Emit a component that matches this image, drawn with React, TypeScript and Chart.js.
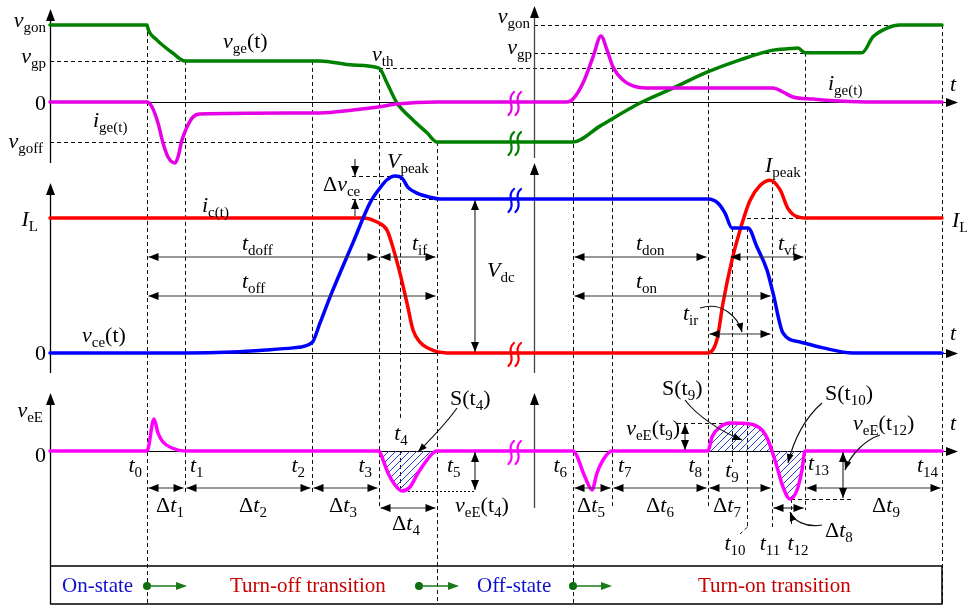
import React, { useEffect, useRef } from 'react';
import Chart from 'chart.js/auto';

type Pt = [number, number];

// Canvas size and the pixel layout of the three stacked panels
const W = 967;
const H = 609;
const ORIGIN_PX = 50;
const GATE_ZERO_PX = 102;
const POWER_ZERO_PX = 353;
const EMITTER_ZERO_PX = 451;
const GATE_PX_PER_V = 77 / 15;
const IGE_PX_PER_A = 50;
const IC_PX_PER_A = 1.35;
const VCE_PX_PER_V = 154 / 600;
const VEE_PX_PER_MV = 1;

// Switching instants t0 .. t14 (ns)
const eventTimes = [97, 135, 262, 329, 350, 387, 523, 562, 658, 682, 697, 722, 741, 755, 892];
const BREAK_T = 465;
const ORIGIN2_T = 484;

// Gate levels (V)
const VGON = 15;
const VGP = 8;
const VTH = 6.6;
const VGOFF = -7.8;
const VGP_ON = 9.6;
// Load levels
const IL = 100;
const IPEAK = 128;
const VDC = 600;
const VPEAK = 690;
const VMILLER = 487;
// Emitter voltage extremes (mV)
const VE_T4 = -40;
const VE_T9 = 28;
const VE_T12 = -48;

// Gate-emitter voltage (ns, V)
const vgePts: Pt[] = [
  [0, 15], [97, 15], [98, 14.3], [100, 13.4], [105, 12.4], [110, 11.5], [123, 9.5], [135, 8],
  [270, 8], [303, 7.2], [329, 6.6], [337, 3.7], [347, -0.2], [363, -3.5], [377, -6],
  [387, -7.8], [523, -7.8], [550, -4.7], [590, -0.2], [623, 2.7], [657, 5.8], [690, 8.2],
  [723, 10.1], [740, 10.4], [748, 10.5], [755, 9.6], [812, 9.6], [823, 12.7], [837, 14.4],
  [850, 15], [892, 15],
];
// Gate current (ns, A)
const igePts: Pt[] = [
  [0, 0], [97, 0], [102, -0.1], [108, -0.42], [113, -0.82], [118, -1.1], [125, -1.22],
  [128, -1.1], [132, -0.76], [137, -0.5], [143, -0.3], [150, -0.24], [270, -0.22],
  [303, -0.16], [328, -0.1], [347, -0.04], [387, 0], [517, 0], [523, 0.06], [533, 0.38],
  [543, 0.9], [551, 1.32], [557, 1.04], [563, 0.7], [573, 0.44], [587, 0.3], [600, 0.28],
  [723, 0.28], [733, 0.2], [743, 0.1], [763, 0.06], [790, 0.02], [823, 0], [892, 0],
];
// Collector-emitter voltage (ns, V)
const vcePts: Pt[] = [
  [0, 0], [135, 0], [183, 4], [217, 12], [243, 20], [262, 40], [270, 117], [280, 218],
  [303, 430], [320, 585], [330, 643], [337, 675], [345, 690], [352, 682], [358, 645],
  [367, 623], [380, 607], [390, 600], [658, 600], [668, 584], [675, 545], [682, 487],
  [698, 487], [707, 413], [717, 323], [723, 234], [733, 78], [750, 43], [773, 20],
  [803, 0], [892, 0],
];
// Collector current (ns, A)
const icPts: Pt[] = [
  [0, 100], [313, 100], [327, 97], [337, 91], [343, 78], [350, 59], [357, 37], [363, 17],
  [370, 8], [383, 2], [403, 0], [658, 0], [667, 10], [673, 37], [682, 69], [690, 91],
  [700, 113], [710, 124], [720, 128], [730, 121], [738, 107], [747, 101], [757, 100],
  [892, 100],
];
// Kelvin emitter voltage (ns, mV)
const veEPts: Pt[] = [
  [0, 0], [97, 0], [104, 32], [108, 18], [113, 9], [122, 3], [135, 0], [329, 0], [333, -9],
  [338, -22], [345, -34], [352, -40], [360, -36], [368, -22], [377, -9], [383, -2],
  [387, 0], [523, 0], [535, -26], [542, -39], [547, -22], [553, -9], [562, 0], [658, 0],
  [662, 14], [670, 24], [680, 28], [700, 27], [712, 21], [718, 11], [722, 0], [727, -16],
  [733, -36], [740, -48], [747, -39], [752, -19], [755, 0], [892, 0],
];

// Integrated areas S(t4) and S(t9)/S(t10)
const hatchSpans: Pt[] = [
  [eventTimes[3], eventTimes[5]],
  [eventTimes[8], eventTimes[13]],
];

const GREEN = '#008000';
const MAGENTA = '#e600e6';
const RED = '#ff0000';
const BLUE = '#0000ff';
const SERIF = '"Liberation Serif", "Times New Roman", serif';

type Seg = [string, string];
const I = (s: string): Seg => [s, 'i'];
const R = (s: string): Seg => [s, 'r'];
const S = (s: string): Seg => [s, 's'];

function range(zeroPx: number, pxPerUnit: number) {
  return { min: (zeroPx - H) / pxPerUnit, max: zeroPx / pxPerUnit };
}

function fontOf(kind: string, size: number) {
  if (kind === 'i') return `italic ${size}px ${SERIF}`;
  if (kind === 's') return `${Math.round(size * 0.68)}px ${SERIF}`;
  return `${size}px ${SERIF}`;
}

function rich(ctx: any, segs: Seg[], x: number, y: number, align = 'left', color = '#000', size = 22) {
  ctx.save();
  ctx.fillStyle = color;
  ctx.textAlign = 'left';
  ctx.textBaseline = 'alphabetic';
  let w = 0;
  for (const [s, k] of segs) {
    ctx.font = fontOf(k, size);
    w += ctx.measureText(s).width;
  }
  let cx = align === 'left' ? x : align === 'right' ? x - w : x - w / 2;
  for (const [s, k] of segs) {
    ctx.font = fontOf(k, size);
    ctx.fillText(s, cx, k === 's' ? y + 5 : y);
    cx += ctx.measureText(s).width;
  }
  ctx.restore();
}

function head(ctx: any, x: number, y: number, ang: number, len = 10, half = 4) {
  const c = Math.cos(ang);
  const s = Math.sin(ang);
  ctx.beginPath();
  ctx.moveTo(x, y);
  ctx.lineTo(x - len * c + half * s, y - len * s - half * c);
  ctx.lineTo(x - len * c - half * s, y - len * s + half * c);
  ctx.closePath();
  ctx.fill();
}

function arrow(ctx: any, x1: number, y1: number, x2: number, y2: number, start: boolean, end: boolean, color = '#333') {
  ctx.save();
  ctx.setLineDash([]);
  ctx.strokeStyle = color;
  ctx.lineWidth = 1.2;
  ctx.beginPath();
  ctx.moveTo(x1, y1);
  ctx.lineTo(x2, y2);
  ctx.stroke();
  ctx.fillStyle = '#000';
  const ang = Math.atan2(y2 - y1, x2 - x1);
  if (end) head(ctx, x2, y2, ang);
  if (start) head(ctx, x1, y1, ang + Math.PI);
  ctx.restore();
}

function curvedArrow(ctx: any, p: number[]) {
  const [x1, y1, c1x, c1y, c2x, c2y, x2, y2] = p;
  ctx.save();
  ctx.setLineDash([]);
  ctx.strokeStyle = '#111';
  ctx.lineWidth = 1.2;
  ctx.beginPath();
  ctx.moveTo(x1, y1);
  ctx.bezierCurveTo(c1x, c1y, c2x, c2y, x2, y2);
  ctx.stroke();
  ctx.fillStyle = '#000';
  head(ctx, x2, y2, Math.atan2(y2 - c2y, x2 - c2x), 9, 3.5);
  ctx.restore();
}

function squiggle(ctx: any, x: number, y: number, color: string) {
  ctx.save();
  ctx.setLineDash([]);
  ctx.strokeStyle = color;
  ctx.lineWidth = 2.2;
  ctx.lineCap = 'round';
  for (const dx of [-3.5, 3.5]) {
    const cx = x + dx;
    ctx.beginPath();
    ctx.moveTo(cx + 2.5, y - 11);
    ctx.bezierCurveTo(cx - 6, y - 4, cx + 5, y + 4, cx - 3, y + 12);
    ctx.stroke();
  }
  ctx.restore();
}

const waveformNotes = {
  id: 'waveformNotes',
  beforeDatasetsDraw(chart: any) {
    const ctx = chart.ctx;
    const X = (t: number) => chart.scales.x.getPixelForValue(t);
    const G = (v: number) => chart.scales.yGate.getPixelForValue(v);
    const P = (v: number) => chart.scales.yIc.getPixelForValue(v);
    const V = (v: number) => chart.scales.yVce.getPixelForValue(v);
    const E = (v: number) => chart.scales.yVeE.getPixelForValue(v);
    const T = (i: number) => X(eventTimes[i]);
    const g0 = G(0);
    const p0 = P(0);
    const e0 = E(0);
    const boxTop = e0 + 115;
    const boxBot = e0 + 153;
    const snap = (v: number) => Math.round(v) + 0.5;

    // dashed construction lines
    ctx.save();
    ctx.strokeStyle = '#111';
    ctx.lineWidth = 1;
    ctx.setLineDash([4, 3]);
    const vl = (x: number, y1: number, y2: number) => {
      ctx.beginPath();
      ctx.moveTo(snap(x), y1);
      ctx.lineTo(snap(x), y2);
      ctx.stroke();
    };
    const hl = (y: number, x1: number, x2: number) => {
      ctx.beginPath();
      ctx.moveTo(x1, snap(y));
      ctx.lineTo(x2, snap(y));
      ctx.stroke();
    };
    vl(T(0), G(VGON), boxBot);
    vl(T(1), G(VGP), e0 + 42);
    vl(T(2), G(VGP), e0 + 44);
    vl(T(3), G(VTH), e0 + 58);
    vl(T(4), V(VPEAK), e0 - 31);
    vl(T(4), e0, E(VE_T4));
    vl(T(5), G(VGOFF), boxBot);
    vl(T(6), g0, boxBot);
    vl(T(7), G(VTH), e0 + 55);
    vl(T(8), G(VTH), e0 + 57);
    vl(T(9), V(VMILLER), e0 + 11);
    vl(T(10), V(VMILLER), e0 + 76);
    ctx.beginPath();
    ctx.moveTo(snap(T(10)), e0 + 76);
    ctx.lineTo(T(10) - 7, e0 + 83);
    ctx.stroke();
    vl(T(11), P(IPEAK), e0 + 76);
    vl(T(12), E(VE_T12), e0 + 76);
    vl(T(13), G(VGP_ON), e0 + 59);
    vl(T(14), G(VGON), boxBot);

    hl(G(VGP), X(0), T(1));
    hl(G(VGOFF), X(0), T(5));
    hl(G(VTH), T(3), T(8));
    hl(G(VGON), X(ORIGIN2_T), T(14));
    hl(G(VGP_ON), X(ORIGIN2_T), T(13));
    hl(V(VPEAK), X(302), X(345));
    hl(V(VDC), X(302), T(5));
    hl(P(IL), T(10), T(13));
    hl(E(VE_T9), X(627), X(690));
    hl(E(VE_T12), T(12), X(802));
    ctx.setLineDash([2, 2]);
    hl(E(VE_T4), T(4), X(425));
    ctx.restore();

    // axes
    ctx.save();
    ctx.strokeStyle = '#000';
    ctx.fillStyle = '#000';
    ctx.lineWidth = 1.3;
    const vAxis = (x: number, tip: number, bottom: number, color = '#000') => {
      ctx.strokeStyle = color;
      ctx.beginPath();
      ctx.moveTo(snap(x), tip + 6);
      ctx.lineTo(snap(x), bottom);
      ctx.stroke();
      head(ctx, snap(x), tip, -Math.PI / 2, 12, 4.5);
    };
    const x0 = X(0);
    const x2 = X(ORIGIN2_T);
    vAxis(x0, g0 - 93, g0 + 61);
    vAxis(x0, p0 - 170, p0 + 20);
    vAxis(x0, e0 - 58, boxBot);
    vAxis(x2, g0 - 96, g0 + 56, '#444');
    vAxis(x2, p0 - 190, p0 + 20, '#444');
    vAxis(x2, e0 - 58, e0 + 57, '#444');
    ctx.strokeStyle = '#000';
    ctx.lineWidth = 1;
    for (const y of [g0, p0, e0]) {
      ctx.beginPath();
      ctx.moveTo(x0, snap(y));
      ctx.lineTo(X(904), snap(y));
      ctx.stroke();
      head(ctx, X(908), snap(y), 0, 12, 4.5);
    }
    // state bar
    ctx.lineWidth = 1.5;
    ctx.beginPath();
    ctx.moveTo(x0, boxTop);
    ctx.lineTo(T(14), boxTop);
    ctx.lineTo(T(14), boxBot);
    ctx.lineTo(x0, boxBot);
    ctx.stroke();
    ctx.restore();
  },
  afterDatasetsDraw(chart: any) {
    const ctx = chart.ctx;
    const X = (t: number) => chart.scales.x.getPixelForValue(t);
    const G = (v: number) => chart.scales.yGate.getPixelForValue(v);
    const P = (v: number) => chart.scales.yIc.getPixelForValue(v);
    const V = (v: number) => chart.scales.yVce.getPixelForValue(v);
    const E = (v: number) => chart.scales.yVeE.getPixelForValue(v);
    const T = (i: number) => X(eventTimes[i]);
    const g0 = G(0);
    const p0 = P(0);
    const e0 = E(0);
    const left = X(0) - 4;

    // breaks in the time axis
    const xb = X(BREAK_T);
    squiggle(ctx, xb, g0 + 1, MAGENTA);
    squiggle(ctx, xb, G(VGOFF) + 1, GREEN);
    squiggle(ctx, xb, V(VDC) + 1, BLUE);
    squiggle(ctx, xb, p0 + 1, RED);
    squiggle(ctx, xb, e0 + 1, '#ff00ff');

    // interval arrows
    const dim = (xa: number, xb2: number, y: number) => arrow(ctx, xa + 1.5, y, xb2 - 1.5, y, true, true);
    const row1 = p0 - 96;
    const row2 = p0 - 57;
    dim(T(0), T(3), row1);
    dim(T(3), T(5), row1);
    dim(T(0), T(5), row2);
    dim(T(6), T(8), row1);
    dim(X(679), T(13), row1);
    dim(T(6), T(11), row2);
    dim(T(8), T(11), p0 - 19);
    const dt1 = e0 + 37;
    const dt2 = e0 + 57;
    dim(T(0), T(1), dt1);
    dim(T(1), T(2), dt1);
    dim(T(2), T(3), dt1);
    dim(T(3), T(5), dt2);
    dim(T(6), T(7), dt1);
    dim(T(7), T(8), dt1);
    dim(T(8), T(11), dt1);
    dim(T(11), T(13), dt2);
    dim(T(13), T(14), dt1);

    // level arrows
    const xv = X(305);
    arrow(ctx, xv, V(VPEAK) - 17, xv, V(VPEAK), false, true);
    arrow(ctx, xv, V(VDC) + 17, xv, V(VDC), false, true);
    arrow(ctx, X(425), V(VDC) + 1, X(425), p0 - 1, true, true);
    arrow(ctx, X(425), e0 + 1, X(425), E(VE_T4) - 1, true, true);
    arrow(ctx, X(635), E(VE_T9) + 1, X(635), e0 - 1, true, true);
    arrow(ctx, X(793), e0 + 1, X(793), E(VE_T12) - 1, true, true);

    // pointer arrows
    curvedArrow(ctx, [X(650), p0 - 45, X(672), p0 - 52, X(688), p0 - 36, X(692), p0 - 21]);
    curvedArrow(ctx, [X(407), e0 - 43, X(395), e0 - 26, X(380), e0 - 11, X(368), e0 + 1]);
    curvedArrow(ctx, [X(635), e0 - 51, X(648), e0 - 34, X(672), e0 - 19, X(692), e0 - 11]);
    curvedArrow(ctx, [X(772), e0 - 48, X(756), e0 - 34, X(744), e0 - 12, X(738), e0 + 12]);
    curvedArrow(ctx, [X(830), e0 - 16, X(815), e0 - 11, X(800), e0 + 4, X(795), e0 + 19]);
    curvedArrow(ctx, [X(772), e0 + 74, X(755), e0 + 77, X(743), e0 + 69, X(740), e0 + 61]);

    // gate panel labels
    rich(ctx, [I('v'), S('gon')], left, G(VGON) + 2, 'right');
    rich(ctx, [I('v'), S('gp')], left, G(VGP) + 2, 'right');
    rich(ctx, [R('0')], left, g0 + 8, 'right');
    rich(ctx, [I('v'), S('goff')], left - 3, G(VGOFF) + 6, 'right');
    rich(ctx, [I('v'), S('ge'), R('(t)')], X(173), g0 - 54);
    rich(ctx, [I('v'), S('th')], X(322), G(VTH) - 7);
    rich(ctx, [I('i'), S('ge(t)')], X(43), g0 + 25);
    rich(ctx, [I('v'), S('gon')], X(ORIGIN2_T) - 4, G(VGON) - 2, 'right');
    rich(ctx, [I('v'), S('gp')], X(ORIGIN2_T) - 2, G(VGP_ON) + 1, 'right');
    rich(ctx, [I('i'), S('ge(t)')], X(778), g0 - 12);
    rich(ctx, [I('t')], X(900), g0 - 11);

    // power panel labels
    rich(ctx, [I('I'), S('L')], left - 8, P(IL) + 8, 'right');
    rich(ctx, [R('0')], left, p0 + 7, 'right');
    rich(ctx, [I('i'), S('c(t)')], X(152), P(IL) - 6);
    rich(ctx, [I('t'), S('doff')], X(192), p0 - 103);
    rich(ctx, [I('t'), S('off')], X(192), p0 - 65);
    rich(ctx, [I('v'), S('ce'), R('(t)')], X(32), p0 - 11);
    rich(ctx, [R('Δ'), I('v'), S('ce')], X(273), V(VDC) - 8);
    rich(ctx, [I('V'), S('peak')], X(337), V(VPEAK) - 8);
    rich(ctx, [I('t'), S('if')], X(362), p0 - 103);
    rich(ctx, [I('V'), S('dc')], X(437), p0 - 76);
    rich(ctx, [I('t'), S('don')], X(586), p0 - 103);
    rich(ctx, [I('t'), S('on')], X(586), p0 - 65);
    rich(ctx, [I('t'), S('vf')], X(728), p0 - 103);
    rich(ctx, [I('t'), S('ir')], X(633), p0 - 33);
    rich(ctx, [I('I'), S('peak')], X(715), P(IPEAK) - 8);
    rich(ctx, [I('I'), S('L')], X(902), P(IL) + 9);
    rich(ctx, [I('t')], X(900), p0 - 13);

    // emitter panel labels
    rich(ctx, [I('v'), S('eE')], left - 3, e0 - 34, 'right');
    rich(ctx, [R('0')], left, e0 + 11, 'right');
    const tLab: [number, number, number, string][] = [
      [0, -5, 21, 'right'], [1, 5, 21, 'left'], [2, -7, 21, 'right'], [3, -7, 21, 'right'],
      [4, 1, -11, 'center'], [5, 10, 21, 'left'], [6, -6, 21, 'right'], [7, 6, 21, 'left'],
      [8, -6, 21, 'right'], [9, 0, 26, 'center'], [10, -12, 99, 'center'], [11, -2, 99, 'center'],
      [12, 7, 99, 'center'], [13, 3, 19, 'left'], [14, -4, 21, 'right'],
    ];
    for (const [i, dx, dy, al] of tLab) rich(ctx, [I('t'), S(String(i))], T(i) + dx, e0 + dy, al);
    const dLab: [number, number, number, string][] = [
      [1, 120, 61, 'center'], [2, 203, 61, 'center'], [3, 293, 61, 'center'], [4, 356, 79, 'center'],
      [5, 541, 61, 'center'], [6, 610, 61, 'center'], [7, 677, 61, 'center'], [8, 775, 86, 'left'],
      [9, 836, 61, 'center'],
    ];
    for (const [i, t, dy, al] of dLab) rich(ctx, [R('Δ'), I('t'), S(String(i))], X(t), e0 + dy, al);
    rich(ctx, [I('v'), S('eE'), R('(t'), S('4'), R(')')], X(405), e0 + 61);
    rich(ctx, [I('v'), S('eE'), R('(t'), S('9'), R(')')], X(630), e0 - 16, 'right');
    rich(ctx, [I('v'), S('eE'), R('(t'), S('12'), R(')')], X(803), e0 - 21);
    rich(ctx, [R('S(t'), S('4'), R(')')], X(400), e0 - 46);
    rich(ctx, [R('S(t'), S('9'), R(')')], X(612), e0 - 56);
    rich(ctx, [R('S(t'), S('10'), R(')')], X(775), e0 - 51);
    rich(ctx, [I('t')], X(900), e0 - 21);

    // operating states
    const sy = e0 + 141;
    rich(ctx, [R('On-state')], X(12), sy, 'left', '#1010d0', 21);
    rich(ctx, [R('Turn-off transition')], X(180), sy, 'left', '#c80000', 21);
    rich(ctx, [R('Off-state')], X(427), sy, 'left', '#1010d0', 21);
    rich(ctx, [R('Turn-on transition')], X(648), sy, 'left', '#c80000', 21);
    const my = e0 + 135;
    for (const [a, b] of [[eventTimes[0], 137], [369, 409], [eventTimes[6], eventTimes[7]]]) {
      ctx.save();
      ctx.fillStyle = '#0a6e0a';
      ctx.beginPath();
      ctx.arc(X(a), my, 4, 0, Math.PI * 2);
      ctx.fill();
      ctx.strokeStyle = '#1a7a1a';
      ctx.lineWidth = 1.5;
      ctx.beginPath();
      ctx.moveTo(X(a), my);
      ctx.lineTo(X(b) - 4, my);
      ctx.stroke();
      ctx.fillStyle = '#1a7a1a';
      head(ctx, X(b), my, 0, 11, 4);
      ctx.restore();
    }
  },
};

function hatchPattern(): any {
  const c = document.createElement('canvas');
  c.width = 7;
  c.height = 7;
  const g = c.getContext('2d') as CanvasRenderingContext2D;
  g.strokeStyle = '#2a3fd4';
  g.lineWidth = 1;
  g.beginPath();
  g.moveTo(0, 7);
  g.lineTo(7, 0);
  g.moveTo(-1, 1);
  g.lineTo(1, -1);
  g.moveTo(6, 8);
  g.lineTo(8, 6);
  g.stroke();
  return g.createPattern(c, 'repeat');
}

function curve(pts: Pt[], axis: string, color: string, width = 3.5) {
  return {
    data: pts.map(([x, y]) => ({ x, y })),
    yAxisID: axis,
    borderColor: color,
    borderWidth: width,
    pointRadius: 0,
    pointHoverRadius: 0,
    cubicInterpolationMode: 'monotone',
    borderJoinStyle: 'round',
    borderCapStyle: 'round',
    fill: false,
  };
}

export default function App() {
  const ref = useRef<HTMLCanvasElement>(null);
  useEffect(() => {
    if (!ref.current) return;
    const pattern = hatchPattern();
    const hatches = hatchSpans.map(([a, b]) => ({
      ...curve(veEPts.filter(([t]) => t >= a && t <= b), 'yVeE', 'rgba(0,0,0,0)', 0),
      fill: { value: 0 },
      backgroundColor: pattern,
    }));
    const chart = new Chart(ref.current, {
      type: 'line',
      data: {
        datasets: [
          curve(veEPts, 'yVeE', '#ff00ff'),
          ...hatches,
          curve(vcePts, 'yVce', BLUE),
          curve(icPts, 'yIc', RED),
          curve(igePts, 'yIge', MAGENTA),
          curve(vgePts, 'yGate', GREEN),
        ] as any,
      },
      options: {
        responsive: false,
        animation: false,
        events: [],
        layout: { padding: 0 },
        plugins: { legend: { display: false }, tooltip: { enabled: false } },
        scales: {
          x: { type: 'linear', display: false, min: -ORIGIN_PX, max: W - ORIGIN_PX },
          yGate: { type: 'linear', display: false, ...range(GATE_ZERO_PX, GATE_PX_PER_V) },
          yIge: { type: 'linear', display: false, ...range(GATE_ZERO_PX, IGE_PX_PER_A) },
          yIc: { type: 'linear', display: false, ...range(POWER_ZERO_PX, IC_PX_PER_A) },
          yVce: { type: 'linear', display: false, ...range(POWER_ZERO_PX, VCE_PX_PER_V) },
          yVeE: { type: 'linear', display: false, ...range(EMITTER_ZERO_PX, VEE_PX_PER_MV) },
        },
      } as any,
      plugins: [waveformNotes],
    });
    return () => chart.destroy();
  }, []);
  return (
    <div style={{ position: 'fixed', left: 0, top: 0, width: W, height: H, background: '#fff' }}>
      <canvas ref={ref} width={W} height={H} style={{ display: 'block' }} />
    </div>
  );
}
